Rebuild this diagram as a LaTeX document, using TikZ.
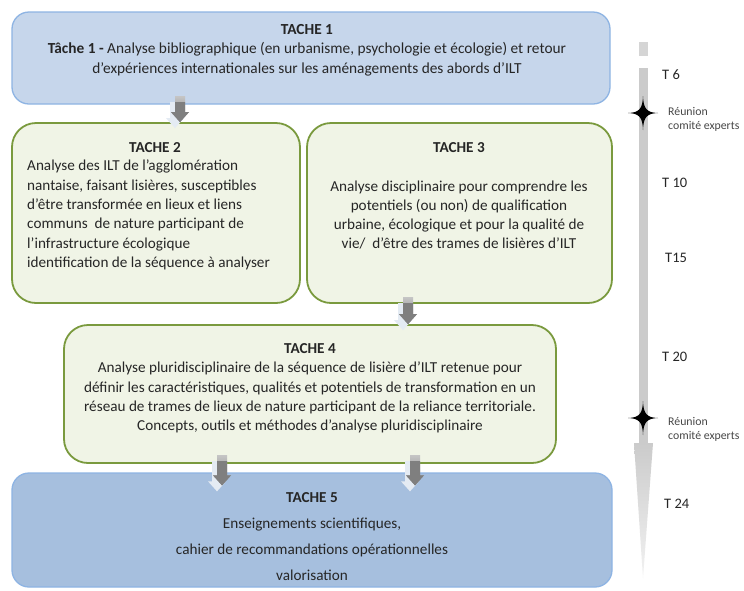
\documentclass[tikz,border=0pt]{standalone}
\usepackage{fontspec}
\setmainfont{Carlito}
\usetikzlibrary{calc}
\definecolor{boneFill}{HTML}{C6D6EB}
\definecolor{bfiveFill}{HTML}{A6BFDE}
\definecolor{blueLine}{HTML}{8EB4E3}
\definecolor{greenFill}{HTML}{F0F4E6}
\definecolor{greenLine}{HTML}{7A9A3E}
\definecolor{txt}{HTML}{262626}
\definecolor{barGray}{HTML}{CBCBCB}
\definecolor{arrGray}{HTML}{7F7F7F}
\definecolor{shadowC}{HTML}{E4EBF3}
\newcommand{\blockarrow}[2]{%
  \fill[shadowC] let \p1=(#1), \p2=(#2) in
    (\x1-10pt,\y1-6pt) -- (\x1,\y1-6pt) -- (\x1,\y2+4pt) -- (\x1+4pt,\y2+4pt) -- (\x1-5pt,\y2-6pt)
    -- (\x1-14pt,\y2+4pt) -- (\x1-10pt,\y2+4pt) -- cycle;
  \shade[top color=arrGray!45, bottom color=arrGray] let \p1=(#1), \p2=(#2) in
    (\x1-5pt,\y1) -- (\x1+5pt,\y1) -- (\x1+5pt,\y2+10pt) -- (\x1+9pt,\y2+10pt) -- (\x1,\y2)
    -- (\x1-9pt,\y2+10pt) -- (\x1-5pt,\y2+10pt) -- cycle;
  \fill[arrGray] let \p1=(#1), \p2=(#2) in
    (\x1-5pt,\y1-6pt) -- (\x1+5pt,\y1-6pt) -- (\x1+5pt,\y2+10pt) -- (\x1+9pt,\y2+10pt) -- (\x1,\y2)
    -- (\x1-9pt,\y2+10pt) -- (\x1-5pt,\y2+10pt) -- cycle;}
\newcommand{\starmark}[1]{%
  \fill[black] (#1) ++(0,-17) .. controls +(0.4,13) and +(-11,-0.4) .. ++(15,17)
    .. controls +(-11,0.4) and +(0.4,-13) .. ++(-15,17)
    .. controls +(-0.4,-13) and +(11,0.4) .. ++(-15,-17)
    .. controls +(11,-0.4) and +(-0.4,13) .. ++(15,-17) -- cycle;}
\begin{document}
\begin{tikzpicture}[x=1pt,y=-1pt,
  bluebox/.style={draw=blueLine, line width=1.3pt, rounded corners=17pt},
  greenbox/.style={draw=greenLine, fill=greenFill, line width=1.8pt, rounded corners=24pt},
  boxtext/.style={text=txt, font=\fontsize{15.2}{19.3}\selectfont, inner sep=0pt},
  timetext/.style={text=txt, font=\fontsize{14.5}{16}\selectfont, anchor=west, inner sep=0pt},
  meettext/.style={text=txt!85, font=\fontsize{11.8}{14}\selectfont, anchor=west, align=left, inner sep=0pt}]
\useasboundingbox (0,0) rectangle (744,590);
\fill[white] (0,0) rectangle (744,590);

% timeline
\fill[barGray!80] (639,42) rectangle (648,56);
\fill[barGray] (639,68) rectangle (648,443);
\shade[top color=barGray, bottom color=barGray!25] (634,443) -- (653,443) -- (643,578) -- cycle;
\starmark{643,113}
\starmark{643,418}
\node[timetext] (t6) at (662,75) {T 6};
\node[meettext] (r1) at (668,119) {Réunion\\comité experts};
\node[timetext] (t10) at (662,183) {T 10};
\node[timetext] (t15) at (665,258) {T15};
\node[timetext] (t20) at (662,357) {T 20};
\node[meettext] (r2) at (668,429) {Réunion\\comité experts};
\node[timetext] (t24) at (664,504) {T 24};

% boxes
\node[bluebox, fill=boneFill, minimum width=598pt, minimum height=92pt] (b1) at (311,58) {};
\node[greenbox, minimum width=288pt, minimum height=180pt] (b2) at (156,213) {};
\node[greenbox, minimum width=305pt, minimum height=180pt] (b3) at (459.5,213) {};
\node[greenbox, minimum width=492pt, minimum height=138pt] (b4) at (310,394) {};
\node[bluebox, fill=bfiveFill, minimum width=600pt, minimum height=114pt] (b5) at (312,530) {};

% texts
\node[boxtext, align=center, font=\fontsize{15.35}{19.5}\selectfont] (x1) at (307,50) {\textbf{TACHE 1}\\
  \textbf{Tâche 1 -} Analyse bibliographique (en urbanisme, psychologie et écologie) et retour\\
  d’expériences internationales sur les aménagements des abords d’ILT};
\node[boxtext] (h2) at (155,148) {\textbf{TACHE 2}};
\node[boxtext, align=left, anchor=west] (x2) at (27,215) {Analyse des ILT de l’agglomération\\
  nantaise, faisant lisières, susceptibles\\
  d’être transformée en lieux et liens\\
  communs \ de nature participant de\\
  l’infrastructure écologique\\
  identification de la séquence à analyser};
\node[boxtext] (h3) at (459,148) {\textbf{TACHE 3}};
\node[boxtext, align=center] (x3) at (459,215) {Analyse disciplinaire pour comprendre les\\
  potentiels (ou non) de qualification\\
  urbaine, écologique et pour la qualité de\\
  vie/ \ d’être des trames de lisières d’ILT};
\node[boxtext, align=center] (x4) at (310,388.5) {\textbf{TACHE 4}\\
  Analyse pluridisciplinaire de la séquence de lisière d’ILT retenue pour\\
  définir les caractéristiques, qualités et potentiels de transformation en un\\
  réseau de trames de lieux de nature participant de la reliance territoriale.\\
  Concepts, outils et méthodes d’analyse pluridisciplinaire};
\node[boxtext, align=center, font=\fontsize{15.2}{26}\selectfont] (x5) at (312,537) {\textbf{TACHE 5}\\
  Enseignements scientifiques,\\
  cahier de recommandations opérationnelles\\
  valorisation};

% connectors
\coordinate (a1s) at (180,96);
\coordinate (a2s) at (408,297);
\coordinate (a3s) at (222,455);
\coordinate (a4s) at (415,455);
\blockarrow{a1s}{a1s |- b2.north}
\blockarrow{a2s}{a2s |- b4.north}
\blockarrow{a3s}{$(a3s |- b5.north)+(0,13)$}
\blockarrow{a4s}{$(a4s |- b5.north)+(0,13)$}
\end{tikzpicture}
\end{document}
